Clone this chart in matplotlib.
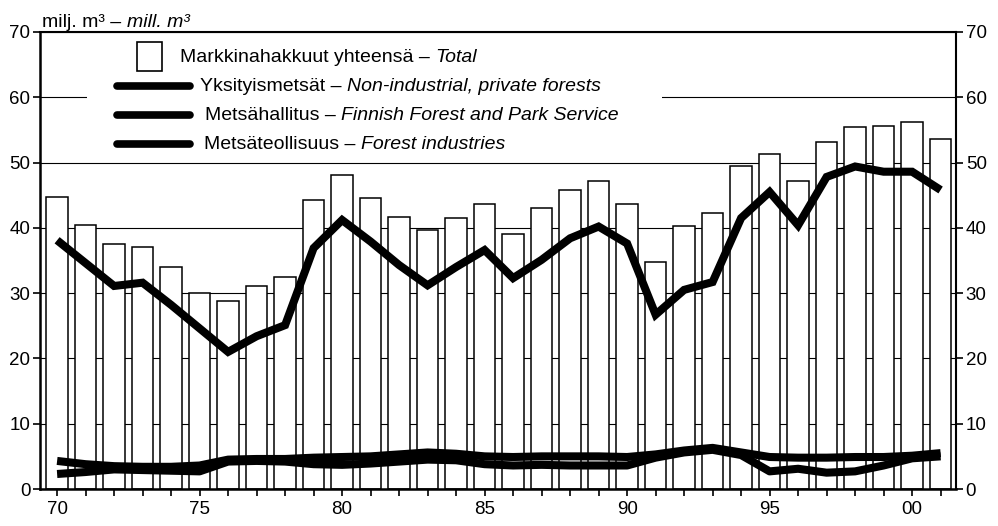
import numpy as np
import matplotlib
matplotlib.use("Agg")
import matplotlib.pyplot as plt
from matplotlib.patches import Rectangle
from matplotlib.lines import Line2D

plt.rcParams['font.family'] = ['Liberation Sans', 'DejaVu Sans']

# market fellings, million m3
years = np.arange(1970, 2002)
total = [44.8, 40.4, 37.5, 37.1, 34.0, 30.0, 28.8, 31.1, 32.5, 44.3,
         48.1, 44.5, 41.7, 39.7, 41.5, 43.6, 39.0, 43.1, 45.8, 47.2,
         43.6, 34.7, 40.3, 42.2, 49.4, 51.3, 47.2, 53.2, 55.5, 55.6,
         56.2, 53.6]
private = [38.1, 34.6, 31.1, 31.6, 28.2, 24.6, 21.0, 23.4, 25.1, 36.9,
           41.2, 37.9, 34.3, 31.2, 34.0, 36.6, 32.3, 35.1, 38.4, 40.2,
           37.6, 26.7, 30.5, 31.7, 41.5, 45.5, 40.4, 47.8, 49.4, 48.6,
           48.6, 45.8]
metsahallitus = [4.3, 3.8, 3.5, 3.4, 3.4, 3.6, 4.5, 4.6, 4.6, 4.8,
                 4.9, 5.0, 5.3, 5.6, 5.4, 5.0, 4.9, 5.0, 5.0, 5.0,
                 4.9, 5.3, 5.9, 6.3, 5.6, 4.9, 4.8, 4.8, 4.9, 4.9,
                 5.1, 5.5]
teollisuus = [2.3, 2.6, 3.0, 2.9, 2.8, 2.7, 4.2, 4.3, 4.2, 3.8,
              3.7, 3.9, 4.2, 4.5, 4.4, 3.8, 3.6, 3.7, 3.6, 3.6,
              3.6, 4.8, 5.6, 6.0, 5.2, 2.7, 3.1, 2.5, 2.7, 3.6,
              4.7, 5.0]

legend_rows = [
    ("Markkinahakkuut yhteensä –", "Total"),
    ("Yksityismetsät –", "Non-industrial, private forests"),
    ("Metsähallitus –", "Finnish Forest and Park Service"),
    ("Metsäteollisuus –", "Forest industries"),
]

W, H = 998, 526
fig = plt.figure(figsize=(W / 100, H / 100), dpi=100)
ax_l, ax_r, ax_b, ax_t = 40, 956, 489, 32
ax = fig.add_axes([ax_l / W, (H - ax_b) / H, (ax_r - ax_l) / W, (ax_b - ax_t) / H])
renderer = fig.canvas.get_renderer()


def px(x, y):
    # pixel position -> axes fraction
    return (x - ax_l) / (ax_r - ax_l), (ax_b - y) / (ax_b - ax_t)


def italic_offset(plain, italic, size):
    # where the italic part starts if the two parts were one string
    def w(s):
        t = fig.text(0, 0, s, fontsize=size)
        width = t.get_window_extent(renderer).width
        t.remove()
        return width
    return w(plain + " " + italic) - w(italic)


ax.bar(years, total, width=0.76, color='white', edgecolor='black',
       linewidth=1.1, zorder=2)
for vals in (metsahallitus, teollisuus):
    ax.plot(years, vals, color='black', lw=5.8, zorder=3,
            solid_joinstyle='round', solid_capstyle='butt')
ax.plot(years, private, color='black', lw=5.8, zorder=4,
        solid_joinstyle='miter', solid_capstyle='butt')

ax.set_xlim(1969.4, 2001.54)
ax.set_ylim(0, 70)
ax.set_yticks(range(0, 71, 10))
ax.set_xticks(years)
ax.set_xticklabels(["%02d" % (y % 100) if y % 5 == 0 else "" for y in years])
ax.yaxis.grid(True, color='black', lw=0.8)
ax.set_axisbelow(True)
ax.tick_params(axis='y', left=True, right=True, labelleft=True, labelright=True,
               direction='out', length=5, width=1.2, labelsize=13.5, pad=2)
ax.tick_params(axis='x', direction='out', length=5, width=1.2, labelsize=13.5, pad=4)
for side, lw in (('top', 1.5), ('left', 1.8), ('right', 1.5), ('bottom', 1.8)):
    ax.spines[side].set_linewidth(lw)

# legend drawn by hand on a white box
x0, y0 = px(87, 152)
x1, y1 = px(662, 36)
ax.add_patch(Rectangle((x0, y0), x1 - x0, y1 - y0, transform=ax.transAxes,
                       facecolor='white', edgecolor='none', zorder=5))
sx0, sy0 = px(137, 71)
sx1, sy1 = px(162, 42)
ax.add_patch(Rectangle((sx0, sy0), sx1 - sx0, sy1 - sy0, transform=ax.transAxes,
                       facecolor='white', edgecolor='black', lw=1.2, zorder=6))
for ry in (86, 115, 144):
    (lx0, ly), (lx1, _) = px(117, ry), px(190, ry)
    ax.add_line(Line2D([lx0, lx1], [ly, ly], transform=ax.transAxes, color='black',
                       lw=5.5, solid_capstyle='round', zorder=6))

fs = 14
text_pos = [(180, 57), (200, 86), (205, 115), (204, 144)]
for (tx, ty), (plain, italic) in zip(text_pos, legend_rows):
    off = italic_offset(plain, italic, fs)
    ax0, ay0 = px(tx, ty + 5)
    ax1, _ = px(tx + off, ty + 5)
    ax.text(ax0, ay0, plain, transform=ax.transAxes, fontsize=fs, va='baseline', zorder=7)
    ax.text(ax1, ay0, italic, transform=ax.transAxes, fontsize=fs, style='italic',
            va='baseline', zorder=7)

# unit label above the axes
off = italic_offset("milj. m³ –", "mill. m³", 14)
fig.text(42 / W, (H - 27) / H, "milj. m³ –", fontsize=14, va='baseline')
fig.text((42 + off) / W, (H - 27) / H, "mill. m³", fontsize=14, style='italic',
         va='baseline')

fig.savefig("out.png", dpi=100)
